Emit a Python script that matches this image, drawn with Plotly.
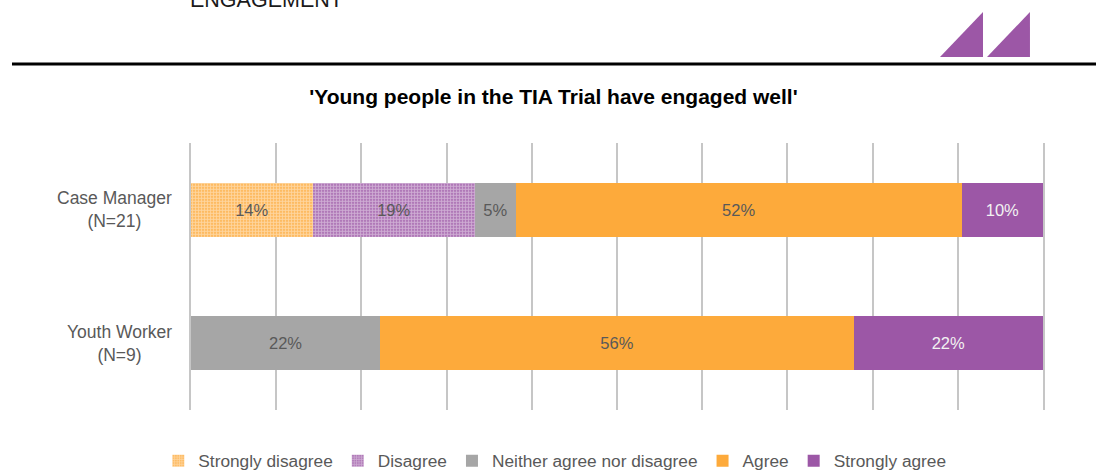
import plotly.graph_objects as go

# categories and response counts (percentages derived from N)
groups = ["Case Manager", "Youth Worker"]
group_n = [21, 9]
responses = ["Strongly disagree", "Disagree", "Neither agree nor disagree", "Agree", "Strongly agree"]
counts = {
    "Strongly disagree": [3, 0],
    "Disagree": [4, 0],
    "Neither agree nor disagree": [1, 2],
    "Agree": [11, 5],
    "Strongly agree": [2, 2],
}

title_text = "'Young people in the TIA Trial have engaged well'"
header_text = "ENGAGEMENT"

ORANGE = "#FDAA3B"
PURPLE = "#9C57A6"
GREY = "#A6A6A6"
TEXT_GREY = "#595959"
LINE_GREY = "#C6C6C6"
FONT = "Liberation Sans, Arial, sans-serif"

styles = {
    "Strongly disagree": dict(color=ORANGE, pattern=dict(shape=".", fgcolor="white", bgcolor=ORANGE, size=3, solidity=0.7), text=TEXT_GREY),
    "Disagree": dict(color=PURPLE, pattern=dict(shape=".", fgcolor="white", bgcolor=PURPLE, size=3, solidity=0.7), text=TEXT_GREY),
    "Neither agree nor disagree": dict(color=GREY, pattern=None, text=TEXT_GREY),
    "Agree": dict(color=ORANGE, pattern=None, text=TEXT_GREY),
    "Strongly agree": dict(color=PURPLE, pattern=None, text="#F2F2F2"),
}

fig = go.Figure()

for resp in responses:
    pct = [c / n * 100 for c, n in zip(counts[resp], group_n)]
    labels = [f"{round(p)}%" if p > 0 else "" for p in pct]
    st = styles[resp]
    marker = dict(color=st["color"], line=dict(width=0))
    if st["pattern"]:
        marker["pattern"] = st["pattern"]
    fig.add_trace(go.Bar(
        y=groups,
        x=pct,
        name=resp,
        orientation="h",
        marker=marker,
        text=labels,
        textposition="inside",
        insidetextanchor="middle",
        textangle=0,
        textfont=dict(color=st["text"], size=16.5, family=FONT),
        hoverinfo="skip",
    ))

# category labels, lines centred like the original
for g, n in zip(groups, group_n):
    fig.add_annotation(
        x=0, xref="paper", y=g, yref="y",
        text=f"{g}<br>(N={n})",
        xanchor="right", xshift=-17, align="center",
        showarrow=False,
        font=dict(size=17.5, color=TEXT_GREY, family=FONT),
    )

# page header bits (header text is cut at the top edge, as in the source page)
fig.add_annotation(
    x=-0.0035, xref="paper", y=1.485, yref="paper",
    text=header_text, xanchor="left", yanchor="bottom",
    showarrow=False, font=dict(size=21.5, color="#1a1a1a", family=FONT),
)
fig.add_shape(type="line", xref="paper", yref="paper",
              x0=-0.2101, x1=1.07, y0=1.2959, y1=1.2959,
              line=dict(color="black", width=3))
fig.add_shape(type="path", xref="paper", yref="paper",
              path="M0.8791,1.3221 L0.9296,1.4906 L0.9296,1.3221 Z",
              fillcolor=PURPLE, line=dict(width=0))
fig.add_shape(type="path", xref="paper", yref="paper",
              path="M0.9343,1.3221 L0.9847,1.4906 L0.9847,1.3221 Z",
              fillcolor=PURPLE, line=dict(width=0))

fig.update_layout(
    width=1096, height=473,
    margin=dict(l=191, r=53, t=143, b=63),
    barmode="stack",
    bargap=0.596,
    plot_bgcolor="white",
    paper_bgcolor="white",
    font=dict(family=FONT, color=TEXT_GREY),
    title=dict(text=title_text, x=0.505, xanchor="center", y=1 - 97 / 473, yanchor="middle",
               font=dict(size=21, color="black", family=FONT, weight="bold")),
    xaxis=dict(range=[0, 100], dtick=10, showgrid=True, gridcolor=LINE_GREY, gridwidth=2,
               showticklabels=False, zeroline=False, fixedrange=True),
    yaxis=dict(autorange="reversed", showticklabels=False, showgrid=False, zeroline=False,
               showline=True, mirror=True, linecolor=LINE_GREY, linewidth=2, fixedrange=True),
    legend=dict(orientation="h", x=0.427, xanchor="center",
                yref="container", y=1 - 461 / 473, yanchor="middle",
                font=dict(size=17.3, color=TEXT_GREY, family=FONT), itemwidth=30,
                traceorder="normal"),
    showlegend=True,
)

fig.write_html("out.html", config={"displayModeBar": False},
               post_script="document.body.style.margin='0px';")
